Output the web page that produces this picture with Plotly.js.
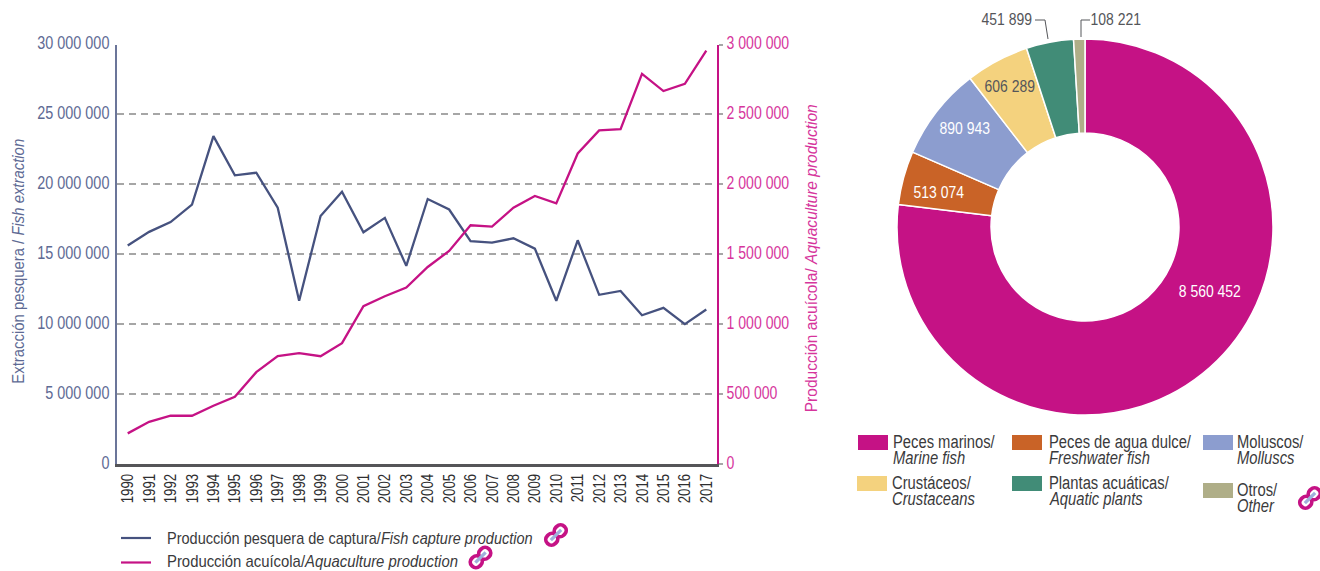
<!DOCTYPE html>
<html><head><meta charset="utf-8">
<script src="https://cdn.plot.ly/plotly-3.0.1.min.js"></script>
<style>html,body{margin:0;padding:0;background:#fff}#c{width:1320px;height:571px}</style>
</head><body><div id="c"></div>
<script>
const W=1320,H=571;
const FONT='"Liberation Sans",Arial,sans-serif';
const years=['1990','1991','1992','1993','1994','1995','1996','1997','1998','1999','2000','2001','2002','2003','2004','2005','2006','2007','2008','2009','2010','2011','2012','2013','2014','2015','2016','2017'];
const capture=[15620000,16600000,17300000,18550000,23450000,20640000,20830000,18330000,11670000,17740000,19470000,16570000,17600000,14170000,18950000,18200000,15930000,15830000,16140000,15400000,11670000,16000000,12100000,12380000,10640000,11170000,10000000,11050000];
const aquaculture=[219000,302000,345000,345000,417000,481000,657000,771000,793000,771000,864000,1129000,1200000,1262000,1409000,1524000,1707000,1698000,1833000,1917000,1864000,2221000,2386000,2395000,2790000,2667000,2719000,2957000];
const seriesNames=['Producción pesquera de captura/<i>Fish capture production</i>','Producción acuícola/<i>Aquaculture production</i>'];
const seriesColors=['#46527f','#c51285'];
const groupsEs=['Peces marinos/','Peces de agua dulce/','Moluscos/','Crustáceos/','Plantas acuáticas/','Otros/'];
const groupsEn=['Marine fish','Freshwater fish','Molluscs','Crustaceans','Aquatic plants','Other'];
const groupValues=[8560452,513074,890943,606289,451899,108221];
const groupColors=['#c51285','#c96327','#8c9dcf','#f4d27e','#418c77','#afae88'];
const labelColors=['#ffffff','#ffffff','#ffffff','#55565a','#55565a','#55565a'];
// layout helpers (pixels -> paper)
const px=x=>x/W, py=y=>1-y/H;
const fmt=v=>String(v).replace(/\B(?=(\d{3})+$)/g,' ');
const labelPos=[[1210,291],[939,192],[964,128],[1009,87],[1006,19],[1115,19]];
const swatchPos=[[858,435],[1012,435],[1203,435],[857,476],[1012,476],[1203,483]];
const textPos=[[893,442],[1049,442],[1237,442],[892,483],[1049,483],[1237,490]];
const LINE=16;
const lineLegendY=[538,561.5];

const annotations=[], shapes=[];
const legendText=(x,y,text,size)=>({xref:'paper',yref:'paper',x:px(x),y:py(y),text,showarrow:false,align:'left',xanchor:'left',yanchor:'middle',xshift:-2,font:{family:FONT,size,color:'#3a3a3c'}});
groupValues.forEach((v,i)=>{
  annotations.push({xref:'paper',yref:'paper',x:px(labelPos[i][0]),y:py(labelPos[i][1]),text:fmt(v),showarrow:false,xanchor:'center',yanchor:'middle',font:{family:FONT,size:17,color:labelColors[i]}});
  annotations.push(legendText(textPos[i][0],textPos[i][1],groupsEs[i],18));
  annotations.push(legendText(textPos[i][0],textPos[i][1]+LINE,'<i>'+groupsEn[i]+'</i>',18));
  shapes.push({type:'rect',xref:'paper',yref:'paper',x0:px(swatchPos[i][0]),x1:px(swatchPos[i][0]+30),y0:py(swatchPos[i][1]),y1:py(swatchPos[i][1]+15),fillcolor:groupColors[i],line:{width:0}});
});
seriesNames.forEach((n,i)=>{
  annotations.push(legendText(167,lineLegendY[i],n,16.6));
  shapes.push({type:'line',xref:'paper',yref:'paper',x0:px(121),x1:px(151),y0:py([538,562.5][i]),y1:py([538,562.5][i]),line:{color:seriesColors[i],width:2.2}});
});
// leader lines
const leaders=[[[1035,20],[1045,20],[1048,39]],[[1090,20],[1081,20],[1081,37]]];
leaders.forEach(l=>shapes.push({type:'path',xref:'paper',yref:'paper',path:'M'+l.map(p=>px(p[0])+','+py(p[1])).join(' L'),line:{color:'#55565a',width:1}}));

const linkSvg='<svg xmlns="http://www.w3.org/2000/svg" viewBox="0 0 24 24"><g transform="rotate(-45 12 12)" fill="none"><rect x="0.5" y="6.7" width="11.5" height="10.6" rx="5" stroke="#c51285" stroke-width="3.6"/><rect x="12" y="6.7" width="11.5" height="10.6" rx="5" stroke="#c51285" stroke-width="3.6"/><rect x="5" y="10.4" width="14" height="3.2" fill="#9fb0dc"/></g></svg>';
const linkUri='data:image/svg+xml;charset=utf-8,'+encodeURIComponent(linkSvg);
const images=[[556,535],[480.5,557.5],[1310,498]].map(p=>({source:linkUri,xref:'paper',yref:'paper',x:px(p[0]),y:py(p[1]),sizex:25/W,sizey:25/H,xanchor:'center',yanchor:'middle',sizing:'contain',layer:'above'}));

const traces=[
 {type:'scatter',mode:'lines',x:years,y:capture,name:'Producción pesquera de captura',xaxis:'x',yaxis:'y',line:{color:seriesColors[0],width:2.3},hoverinfo:'x+y'},
 {type:'scatter',mode:'lines',x:years,y:aquaculture,name:'Producción acuícola',xaxis:'x',yaxis:'y2',line:{color:seriesColors[1],width:2.3},hoverinfo:'x+y'},
 {type:'pie',labels:groupsEs,values:groupValues,sort:false,direction:'clockwise',rotation:0,hole:0.5,textinfo:'none',marker:{colors:groupColors,line:{color:'#ffffff',width:1.5}},domain:{x:[px(1085-188),px(1085+188)],y:[py(227+188),py(227-188)]}}
];
const layout={
 width:W,height:H,margin:{l:0,r:0,t:0,b:0,pad:0},paper_bgcolor:'#fff',plot_bgcolor:'#fff',
 separators:'. ',font:{family:FONT},showlegend:false,
 xaxis:{domain:[px(117),px(717)],type:'category',range:[-0.5,27.5],dtick:1,tickangle:-90,showgrid:false,showline:true,linecolor:'#555558',linewidth:3,ticks:'',tickfont:{family:FONT,size:17,color:'#2e2e30'},ticklabelstandoff:0,anchor:'y',zeroline:false,automargin:false},
 yaxis:{domain:[py(464),py(44.5)],range:[0,30000000],tickvals:[0,5000000,10000000,15000000,20000000,25000000,30000000],tickformat:',d',showline:true,linecolor:'#6b7599',linewidth:2,ticks:'',ticklabelstandoff:2,tickfont:{family:FONT,size:18,color:'#5e6a94'},gridcolor:'#a6a6a6',gridwidth:1.5,griddash:'7px,5px',zeroline:false,automargin:false,
   title:{text:'Extracción pesquera / <i>Fish extraction</i>',standoff:73,font:{family:FONT,size:16,color:'#5e6a94'}}},
 yaxis2:{domain:[py(464),py(44.5)],overlaying:'y',side:'right',anchor:'x',range:[0,3000000],tickvals:[0,500000,1000000,1500000,2000000,2500000,3000000],tickformat:',d',showgrid:false,showline:true,linecolor:'#c51285',linewidth:2,ticks:'outside',ticklen:4,tickcolor:'#a6a6a6',tickwidth:1.5,ticklabelstandoff:0,tickfont:{family:FONT,size:18,color:'#d6359c'},zeroline:false,automargin:false,
   title:{text:'Producción acuícola/ <i>Aquaculture production</i>',standoff:1,font:{family:FONT,size:16,color:'#d6359c'}}},
 annotations,shapes,images
};
// The reference uses a condensed face; none is installed, so narrow the real text.
const condense=[['.xtick text',0.78],['.ytick text',0.8],['.y2tick text',0.78],['.annotation text',0.82],['.g-ytitle text',0.93],['.g-y2title text',0.97]];
const titleShift=[['.g-ytitle text',10,7],['.g-y2title text',-4,4]];
Plotly.newPlot('c',traces,layout,{displayModeBar:false,responsive:false}).then(gd=>{
  condense.forEach(([sel,k])=>gd.querySelectorAll(sel).forEach(t=>{
    let f=k;
    if(sel==='.annotation text'){
      if(t.textContent.includes('Aquaculture production')) f=0.896;
      else if(t.textContent.includes('Fish capture production')) f=0.875;
    }
    t.setAttribute('textLength',t.getComputedTextLength()*f);
    t.setAttribute('lengthAdjust','spacingAndGlyphs');
  }));
  gd.querySelectorAll('.ytick text,.y2tick text').forEach(t=>t.setAttribute('dy','-1.5'));
  titleShift.forEach(([sel,dx,dy])=>gd.querySelectorAll(sel).forEach(t=>{
    t.setAttribute('transform','translate('+dx+','+dy+') '+(t.getAttribute('transform')||''));
  }));
});
</script></body></html>
